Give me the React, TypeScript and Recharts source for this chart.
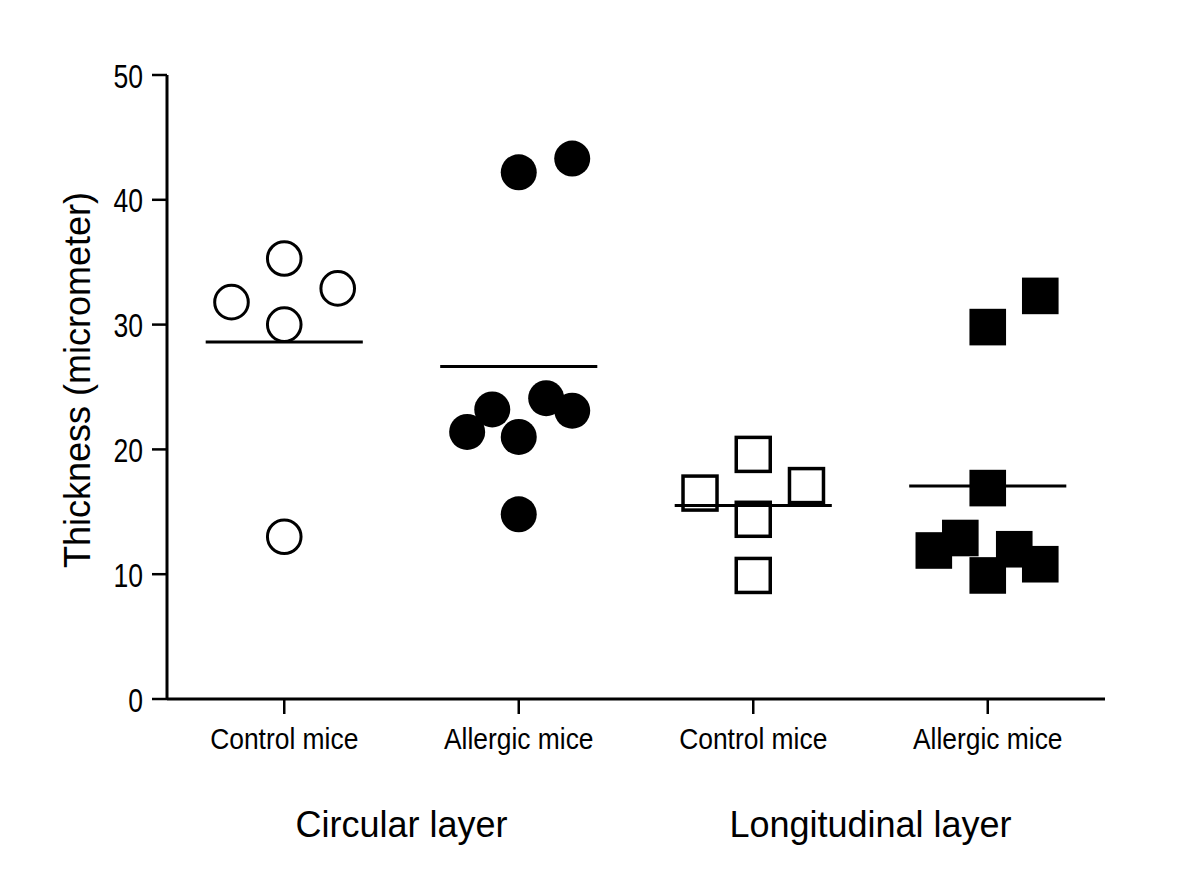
import React from 'react';
import { ScatterChart, Scatter, XAxis, YAxis, ReferenceLine } from 'recharts';

const categories = ['Control mice', 'Allergic mice', 'Control mice', 'Allergic mice'];
const layers = ['Circular layer', 'Longitudinal layer'];
const layerCenters = [0.5, 2.5];
const yTicks = [0, 10, 20, 30, 40, 50];

const circControl = [35.3, 31.8, 32.9, 30.0, 13.0];
const circControlJitter = [0, -0.225, 0.228, 0, 0];
const circAllergic = [42.2, 43.3, 21.4, 23.2, 24.1, 23.1, 21.0, 14.8];
const circAllergicJitter = [0, 0.228, -0.22, -0.113, 0.117, 0.228, 0, 0];
const longControl = [19.6, 16.5, 17.1, 14.4, 9.9];
const longControlJitter = [0, -0.227, 0.227, 0, 0];
const longAllergic = [32.3, 29.8, 16.9, 11.9, 12.9, 12.0, 10.8, 9.9];
const longAllergicJitter = [0.224, 0, 0, -0.23, -0.117, 0.113, 0.224, 0];

const toPoints = (vals: number[], jit: number[], g: number) =>
  vals.map((v, i) => ({ x: g + jit[i], y: v }));
const mean = (vals: number[]) => vals.reduce((a, b) => a + b, 0) / vals.length;

const groups = [
  { vals: circControl, jit: circControlJitter, shape: 'openCircle' },
  { vals: circAllergic, jit: circAllergicJitter, shape: 'filledCircle' },
  { vals: longControl, jit: longControlJitter, shape: 'openSquare' },
  { vals: longAllergic, jit: longAllergicJitter, shape: 'filledSquare' },
];

const FONT = '"Liberation Sans", Arial, sans-serif';
const MEAN_HALF = 0.335;

const makeShape = (kind: string) => (props: any) => {
  const { cx, cy } = props;
  if (cx == null || cy == null) return <g />;
  if (kind === 'openCircle')
    return <circle cx={cx} cy={cy} r={16.8} fill="none" stroke="#000" strokeWidth={3} />;
  if (kind === 'filledCircle') return <circle cx={cx} cy={cy} r={18} fill="#000" />;
  if (kind === 'openSquare')
    return <rect x={cx - 17} y={cy - 17} width={34} height={34} fill="none" stroke="#000" strokeWidth={3.5} />;
  return <rect x={cx - 18.3} y={cy - 18.3} width={36.6} height={36.6} fill="#000" />;
};

const emptyShape = () => <g />;

const YTick = (props: any) => {
  const { x, y, payload } = props;
  return (
    <g transform={`translate(${x},${y}) scale(0.78,1)`}>
      <text x={0} y={0} dy={12.5} textAnchor="end" fontSize={34} fontFamily={FONT} fill="#000">
        {payload.value}
      </text>
    </g>
  );
};

const XTick = (props: any) => {
  const { x, y, payload } = props;
  const idx = Math.round(payload.value);
  return (
    <g transform={`translate(${x},${y}) scale(0.88,1)`}>
      <text x={0} y={0} dy={27} textAnchor="middle" fontSize={30} fontFamily={FONT} fill="#000">
        {categories[idx]}
      </text>
    </g>
  );
};

const GroupTick = (props: any) => {
  const { x, y, payload } = props;
  const idx = layerCenters.indexOf(payload.value);
  return (
    <text x={x} y={y} dy={78} textAnchor="middle" fontSize={36} fontFamily={FONT} fill="#000">
      {layers[idx]}
    </text>
  );
};

const YLabel = (props: any) => {
  const vb = props.viewBox || { x: 67, y: 75, width: 100, height: 624 };
  const cx = vb.x + 23;
  const cy = vb.y + vb.height / 2 - 7;
  return (
    <text
      x={cx}
      y={cy}
      transform={`rotate(-90, ${cx}, ${cy})`}
      textAnchor="middle"
      fontSize={36}
      fontFamily={FONT}
      fill="#000"
    >
      Thickness (micrometer)
    </text>
  );
};

export default function App() {
  return (
    <div style={{ position: 'absolute', left: 0, top: 0, width: 1200, height: 894, background: '#fff' }}>
      <ScatterChart width={1200} height={894} margin={{ top: 75, right: 95, bottom: 75, left: 67 }}>
        <XAxis
          dataKey="x"
          type="number"
          domain={[-0.5, 3.5]}
          ticks={[0, 1, 2, 3]}
          allowDataOverflow
          height={60}
          axisLine={{ stroke: '#000', strokeWidth: 3 }}
          tickLine={{ stroke: '#000', strokeWidth: 2.5 }}
          tickSize={15}
          tickMargin={8}
          tick={<XTick />}
        />
        <XAxis
          xAxisId="grp"
          dataKey="x"
          type="number"
          domain={[-0.5, 3.5]}
          ticks={layerCenters}
          allowDataOverflow
          height={60}
          axisLine={false}
          tickLine={false}
          tickSize={0}
          tickMargin={0}
          tick={<GroupTick />}
        />
        <YAxis
          dataKey="y"
          type="number"
          domain={[0, 50]}
          ticks={yTicks}
          allowDataOverflow
          width={100}
          axisLine={{ stroke: '#000', strokeWidth: 3 }}
          tickLine={{ stroke: '#000', strokeWidth: 2.5 }}
          tickSize={15}
          tickMargin={9}
          tick={<YTick />}
          label={{ content: <YLabel /> }}
        />
        <Scatter
          xAxisId="grp"
          data={layerCenters.map((c) => ({ x: c, y: 0 }))}
          dataKey="y"
          shape={emptyShape}
          isAnimationActive={false}
        />
        {groups.map((g, i) => (
          <Scatter
            key={i}
            data={toPoints(g.vals, g.jit, i)}
            dataKey="y"
            shape={makeShape(g.shape)}
            isAnimationActive={false}
          />
        ))}
        {groups.map((g, i) => (
          <ReferenceLine
            key={'m' + i}
            segment={[
              { x: i - MEAN_HALF, y: mean(g.vals) },
              { x: i + MEAN_HALF, y: mean(g.vals) },
            ]}
            stroke="#000"
            strokeWidth={3}
          />
        ))}
      </ScatterChart>
    </div>
  );
}
